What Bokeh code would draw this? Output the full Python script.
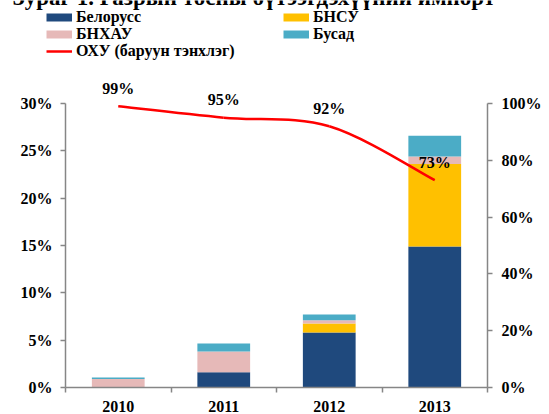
from bokeh.plotting import figure
from bokeh.models import (Range1d, LinearAxis, FixedTicker, Legend, LegendItem,
                          Label, LabelSet, ColumnDataSource)
from bokeh.core.properties import value
from bokeh.embed import file_html
from bokeh.resources import INLINE

# ---- data ----
years = ["2010", "2011", "2012", "2013"]
belarus = [0.0, 1.6, 5.8, 14.9]      # Белорусс
bnsu = [0.0, 0.0, 0.95, 8.7]         # БНСУ
bnkhau = [0.9, 2.2, 0.35, 0.8]       # БНХАУ
other = [0.15, 0.85, 0.6, 2.2]       # Бусад
russia = [99, 95, 92, 73]            # ОХУ (right axis)
left_ticks = [0, 5, 10, 15, 20, 25, 30]
right_ticks = [0, 20, 40, 60, 80, 100]
series_names = ["Белорусс", "БНСУ", "БНХАУ", "Бусад"]
line_name = "ОХУ (баруун тэнхлэг)"
title_text = "Зураг 1. Газрын тосны бүтээгдэхүүний импорт"

colors = ["#1F497D", "#FFC000", "#E6B9B8", "#4BACC6"]
FONT = "Liberation Serif"
AXIS_COLOR = "#868686"

# ---- layout (pixels) ----
W, H = 549, 414
PL, PR, PT, PB = 65, 487, 103, 387   # plot area edges on the canvas

n = len(years)
xs = [i + 0.5 for i in range(n)]
lmax, rmax = left_ticks[-1], right_ticks[-1]

def ext(lo, hi, p0, p1, total, flip=False):
    per = (hi - lo) / (p1 - p0)
    if flip:
        return Range1d(lo - (total - p1) * per, hi + p0 * per)
    return Range1d(lo - p0 * per, hi + (total - p1) * per)

src = ColumnDataSource(dict(x=xs, belarus=belarus, bnsu=bnsu, bnkhau=bnkhau,
                            other=other, russia=russia,
                            lab=[f"{v}%" for v in russia]))

# smoothed (Excel-style) curve segments through the series points
def smooth_segments(xv, yv):
    m = len(xv)
    P = list(zip(xv, yv))
    seg = dict(x0=[], y0=[], x1=[], y1=[], cx0=[], cy0=[], cx1=[], cy1=[])
    for i in range(m - 1):
        pm = P[max(i - 1, 0)]
        p0, p1 = P[i], P[i + 1]
        pn = P[min(i + 2, m - 1)]
        seg["x0"].append(p0[0]); seg["y0"].append(p0[1])
        seg["x1"].append(p1[0]); seg["y1"].append(p1[1])
        seg["cx0"].append(p0[0] + (p1[0] - pm[0]) / 6)
        seg["cy0"].append(p0[1] + (p1[1] - pm[1]) / 6)
        seg["cx1"].append(p1[0] - (pn[0] - p0[0]) / 6)
        seg["cy1"].append(p1[1] - (pn[1] - p0[1]) / 6)
    return ColumnDataSource(seg)

p = figure(width=W, height=H, output_backend="svg", toolbar_location=None,
           x_range=ext(0, n, PL, PR, W),
           y_range=ext(0, lmax, PT, PB, H, flip=True),
           min_border=0)
p.extra_y_ranges = {"right": ext(0, rmax, PT, PB, H, flip=True)}
p.outline_line_color = None
p.grid.visible = False
p.background_fill_color = "white"
p.border_fill_color = "white"
p.title.visible = False

p.vbar_stack(["belarus", "bnsu", "bnkhau", "other"], x="x", width=0.5,
             color=colors, line_color=None, source=src)

p.bezier(x0="x0", y0="y0", x1="x1", y1="y1", cx0="cx0", cy0="cy0",
         cx1="cx1", cy1="cy1", source=smooth_segments(xs, russia),
         y_range_name="right", line_color="#FF0000", line_width=2.5)

labels = LabelSet(x="x", y="russia", text="lab", source=src, y_range_name="right",
                  y_offset=18, text_align="center", text_baseline="middle",
                  text_font=value(FONT), text_font_style="bold",
                  text_font_size="16px", text_color="black")
p.add_layout(labels)

def style_axis(ax):
    ax.axis_line_color = AXIS_COLOR
    ax.axis_line_width = 1.5
    ax.major_tick_line_color = AXIS_COLOR
    ax.major_tick_line_width = 1.5
    ax.major_tick_out = 5
    ax.major_tick_in = 0
    ax.minor_tick_line_color = None
    ax.major_label_text_font = FONT
    ax.major_label_text_font_style = "bold"
    ax.major_label_text_font_size = "16px"
    ax.major_label_text_color = "black"

# left axis
ly = p.yaxis[0]
ly.ticker = FixedTicker(ticks=left_ticks)
ly.major_label_overrides = {t: f"{t}%" for t in left_ticks}
ly.bounds = (0, lmax)
ly.fixed_location = 0
style_axis(ly)
ly.major_label_standoff = 8

# right axis
ry = LinearAxis(y_range_name="right", ticker=FixedTicker(ticks=right_ticks))
ry.major_label_overrides = {t: f"{t}%" for t in right_ticks}
ry.bounds = (0, rmax)
ry.fixed_location = n
style_axis(ry)
ry.major_label_standoff = 9
p.add_layout(ry, "right")

# bottom axis
bx = p.xaxis[0]
bx.ticker = FixedTicker(ticks=xs, minor_ticks=list(range(n + 1)))
bx.major_label_overrides = {x: y for x, y in zip(xs, years)}
bx.bounds = (0, n)
bx.fixed_location = 0
style_axis(bx)
bx.major_tick_line_color = None
bx.minor_tick_line_color = AXIS_COLOR
bx.minor_tick_line_width = 1.5
bx.minor_tick_out = 5
bx.minor_tick_in = 0
bx.major_label_standoff = 8

# legend swatches (line glyphs used only as legend keys)
nan = float("nan")
keys = [p.line(x=[nan], y=[nan], line_color=c, line_width=8) for c in colors]
red_key = p.line(x=[nan], y=[nan], line_color="#FF0000", line_width=2.5)

def add_legend_entry(label, renderer, x, row_center):
    lg = Legend(items=[LegendItem(label=label, renderers=[renderer])],
                location=(x, H - (row_center + 9)), orientation="vertical",
                padding=0, margin=0, spacing=0, glyph_width=26, glyph_height=18,
                label_height=18, label_standoff=4, border_line_color=None,
                background_fill_alpha=0, label_text_font=FONT,
                label_text_font_style="bold", label_text_font_size="16px",
                label_text_color="black")
    p.add_layout(lg, "center")

add_legend_entry(series_names[0], keys[0], 46, 16.7)
add_legend_entry(series_names[2], keys[2], 46, 33.7)
add_legend_entry(line_name, red_key, 46, 50.8)
add_legend_entry(series_names[1], keys[1], 283, 16.7)
add_legend_entry(series_names[3], keys[3], 283, 33.7)

title = Label(x=12, y=H + 3, x_units="screen", y_units="screen", text=title_text,
              text_font=FONT, text_font_style="bold", text_font_size="23px",
              text_baseline="alphabetic", text_color="black")
p.add_layout(title)

html = file_html(p, INLINE)
html = html.replace("<head>", "<head><style>html,body{margin:0;padding:0;}</style>", 1)
open("out.html", "w").write(html)
